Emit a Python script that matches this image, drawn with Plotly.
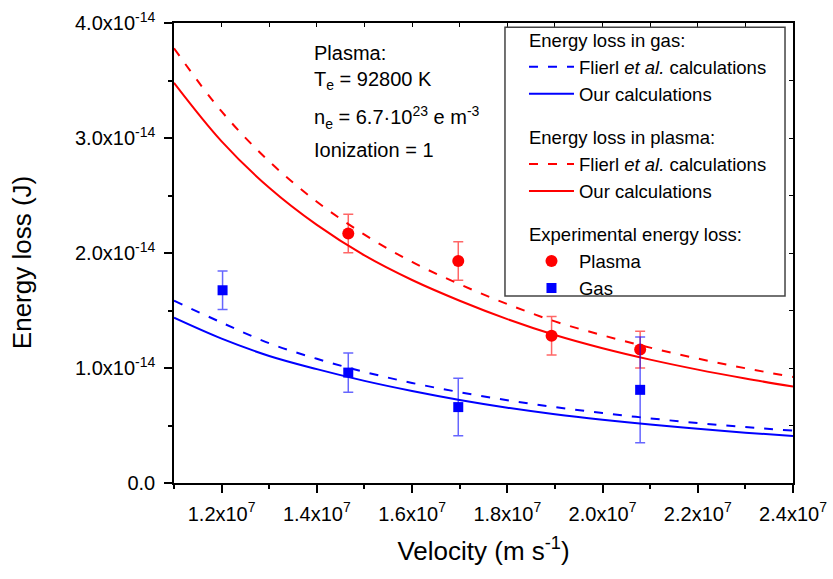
import plotly.graph_objects as go
import numpy as np

# ---------------- data (energy values in units of 1e-14 J) ----------------
v_curve = [1.1e7, 1.2e7, 1.3e7, 1.4e7, 1.5e7, 1.6e7, 1.7e7, 1.8e7, 1.9e7, 2.0e7, 2.1e7, 2.2e7, 2.3e7, 2.4e7]
gas_flierl = [1.585, 1.395, 1.215, 1.080, 0.966, 0.870, 0.790, 0.720, 0.660, 0.608, 0.562, 0.521, 0.486, 0.455]
gas_ours = [1.437, 1.255, 1.105, 0.990, 0.888, 0.800, 0.722, 0.655, 0.598, 0.550, 0.508, 0.471, 0.438, 0.409]
plasma_flierl = [3.780, 3.231, 2.796, 2.446, 2.160, 1.922, 1.728, 1.556, 1.405, 1.285, 1.177, 1.082, 0.998, 0.922]
plasma_ours = [3.480, 2.971, 2.567, 2.244, 1.979, 1.765, 1.585, 1.425, 1.287, 1.172, 1.073, 0.986, 0.909, 0.838]

exp_plasma_v = [1.466e7, 1.697e7, 1.893e7, 2.079e7]
exp_plasma_e = [2.17, 1.93, 1.28, 1.16]
exp_plasma_err = [0.167, 0.167, 0.168, 0.160]

exp_gas_v = [1.202e7, 1.466e7, 1.697e7, 2.079e7]
exp_gas_e = [1.676, 0.96, 0.66, 0.81]
exp_gas_err = [0.167, 0.17, 0.25, 0.46]

x_tickvals = [1.2e7, 1.4e7, 1.6e7, 1.8e7, 2.0e7, 2.2e7, 2.4e7]
x_ticktext = ["1.2x10<sup>7</sup>", "1.4x10<sup>7</sup>", "1.6x10<sup>7</sup>", "1.8x10<sup>7</sup>",
              "2.0x10<sup>7</sup>", "2.2x10<sup>7</sup>", "2.4x10<sup>7</sup>"]
y_tickvals = [0.0, 1.0e-14, 2.0e-14, 3.0e-14, 4.0e-14]
y_ticktext = ["0.0", "1.0x10<sup>-14</sup>", "2.0x10<sup>-14</sup>", "3.0x10<sup>-14</sup>", "4.0x10<sup>-14</sup>"]

SCALE = 1e-14
FONT = "Liberation Sans, Arial, sans-serif"
RED = "#ff0000"
BLUE = "#0000ff"

def s(vals):
    return [v * SCALE for v in vals]

fig = go.Figure()

fig.add_trace(go.Scatter(x=v_curve, y=s(gas_flierl), mode="lines", line=dict(color=BLUE, width=2, dash="9px,10px", shape="spline"),
                         name="Flierl <i>et al.</i> calculations", legendgroup="gas",
                         legendgrouptitle=dict(text="Energy loss in gas:")))
fig.add_trace(go.Scatter(x=v_curve, y=s(gas_ours), mode="lines", line=dict(color=BLUE, width=2, shape="spline"),
                         name="Our calculations", legendgroup="gas"))
fig.add_trace(go.Scatter(x=v_curve, y=s(plasma_flierl), mode="lines", line=dict(color=RED, width=2, dash="9px,10px", shape="spline"),
                         name="Flierl <i>et al.</i> calculations", legendgroup="plasma",
                         legendgrouptitle=dict(text="Energy loss in plasma:")))
fig.add_trace(go.Scatter(x=v_curve, y=s(plasma_ours), mode="lines", line=dict(color=RED, width=2, shape="spline"),
                         name="Our calculations", legendgroup="plasma"))
fig.add_trace(go.Scatter(x=exp_plasma_v, y=s(exp_plasma_e), mode="markers",
                         marker=dict(color=RED, size=12, symbol="circle"),
                         error_y=dict(type="data", array=s(exp_plasma_err), color="rgba(255,0,0,0.6)", thickness=1.5, width=5),
                         name="Plasma", legendgroup="exp",
                         legendgrouptitle=dict(text="Experimental energy loss:")))
fig.add_trace(go.Scatter(x=exp_gas_v, y=s(exp_gas_e), mode="markers",
                         marker=dict(color=BLUE, size=10, symbol="square"),
                         error_y=dict(type="data", array=s(exp_gas_err), color="rgba(0,0,255,0.6)", thickness=1.5, width=5),
                         name="Gas", legendgroup="exp"))
# empty trace so the mirrored (inner-tick) axes are drawn
fig.add_trace(go.Scatter(x=[], y=[], xaxis="x2", yaxis="y2", showlegend=False, hoverinfo="skip"))

XR = [1.1e7, 2.4e7]
YR = [0.0, 4.0e-14]

fig.update_layout(
    width=833, height=579,
    margin=dict(l=174, r=40, t=23, b=96, autoexpand=False),
    paper_bgcolor="white", plot_bgcolor="white",
    font=dict(family=FONT, color="black", size=20),
    xaxis=dict(range=XR, tickvals=x_tickvals, ticktext=x_ticktext, ticks="outside", ticklen=8, tickwidth=1.5,
               tickcolor="black", showline=True, linecolor="black", linewidth=1.5, showgrid=False, zeroline=False,
               tickfont=dict(size=20), ticklabelstandoff=4, automargin=False,
               minor=dict(ticks="outside", ticklen=4, tickwidth=1.5, tickcolor="black", dtick=1e6, tick0=1.1e7, showgrid=False),
               title=dict(text="Velocity (m s<sup>-1</sup>)", font=dict(size=26), standoff=18)),
    yaxis=dict(range=YR, tickvals=y_tickvals, ticktext=y_ticktext, ticks="outside", ticklen=8, tickwidth=1.5,
               tickcolor="black", showline=True, linecolor="black", linewidth=1.5, showgrid=False, zeroline=False,
               tickfont=dict(size=20), ticklabelstandoff=5, automargin=False,
               minor=dict(ticks="outside", ticklen=4, tickwidth=1.5, tickcolor="black", dtick=0.5e-14, tick0=0, showgrid=False)),
    xaxis2=dict(range=XR, overlaying="x", side="top", showline=True, linecolor="black", linewidth=1.5,
                ticks="inside", ticklen=4, tickwidth=1, tickcolor="black", dtick=1e6, tick0=1.1e7, automargin=False,
                showticklabels=False, showgrid=False, zeroline=False),
    yaxis2=dict(range=YR, overlaying="y", side="right", showline=True, linecolor="black", linewidth=1.5,
                ticks="inside", ticklen=4, tickwidth=1, tickcolor="black", dtick=0.5e-14, tick0=0, automargin=False,
                showticklabels=False, showgrid=False, zeroline=False),
    legend=dict(x=0.5654, y=1.004, xanchor="left", yanchor="top", bgcolor="rgba(0,0,0,0)", borderwidth=0,
                font=dict(size=18.5), traceorder="grouped", tracegroupgap=16, itemwidth=45,
                grouptitlefont=dict(size=18.5)),
    showlegend=True,
)

# legend frame
fig.add_shape(type="rect", xref="paper", yref="paper", x0=0.5347, x1=0.9871, y0=0.4063, y1=0.9907,
              line=dict(color="#444444", width=1.5), fillcolor="white", layer="above")

# y-axis title placed as rotated annotation
fig.add_annotation(x=-0.2456, y=0.480, xref="paper", yref="paper", text="Energy loss (J)", textangle=-90,
                   showarrow=False, xanchor="center", yanchor="middle", font=dict(size=26))

ann_x = 0.223
texts = [("Plasma:", 0.934), ("T<sub>e</sub> = 92800 K", 0.8755), ("n<sub>e</sub> = 6.7·10<sup>23</sup> e m<sup>-3</sup>", 0.795),
         ("Ionization = 1", 0.7235)]
for t, yy in texts:
    fig.add_annotation(x=ann_x, y=yy, xref="paper", yref="paper", text=t, showarrow=False,
                       xanchor="left", yanchor="middle", font=dict(size=20), align="left")

fig.write_html("out.html")
